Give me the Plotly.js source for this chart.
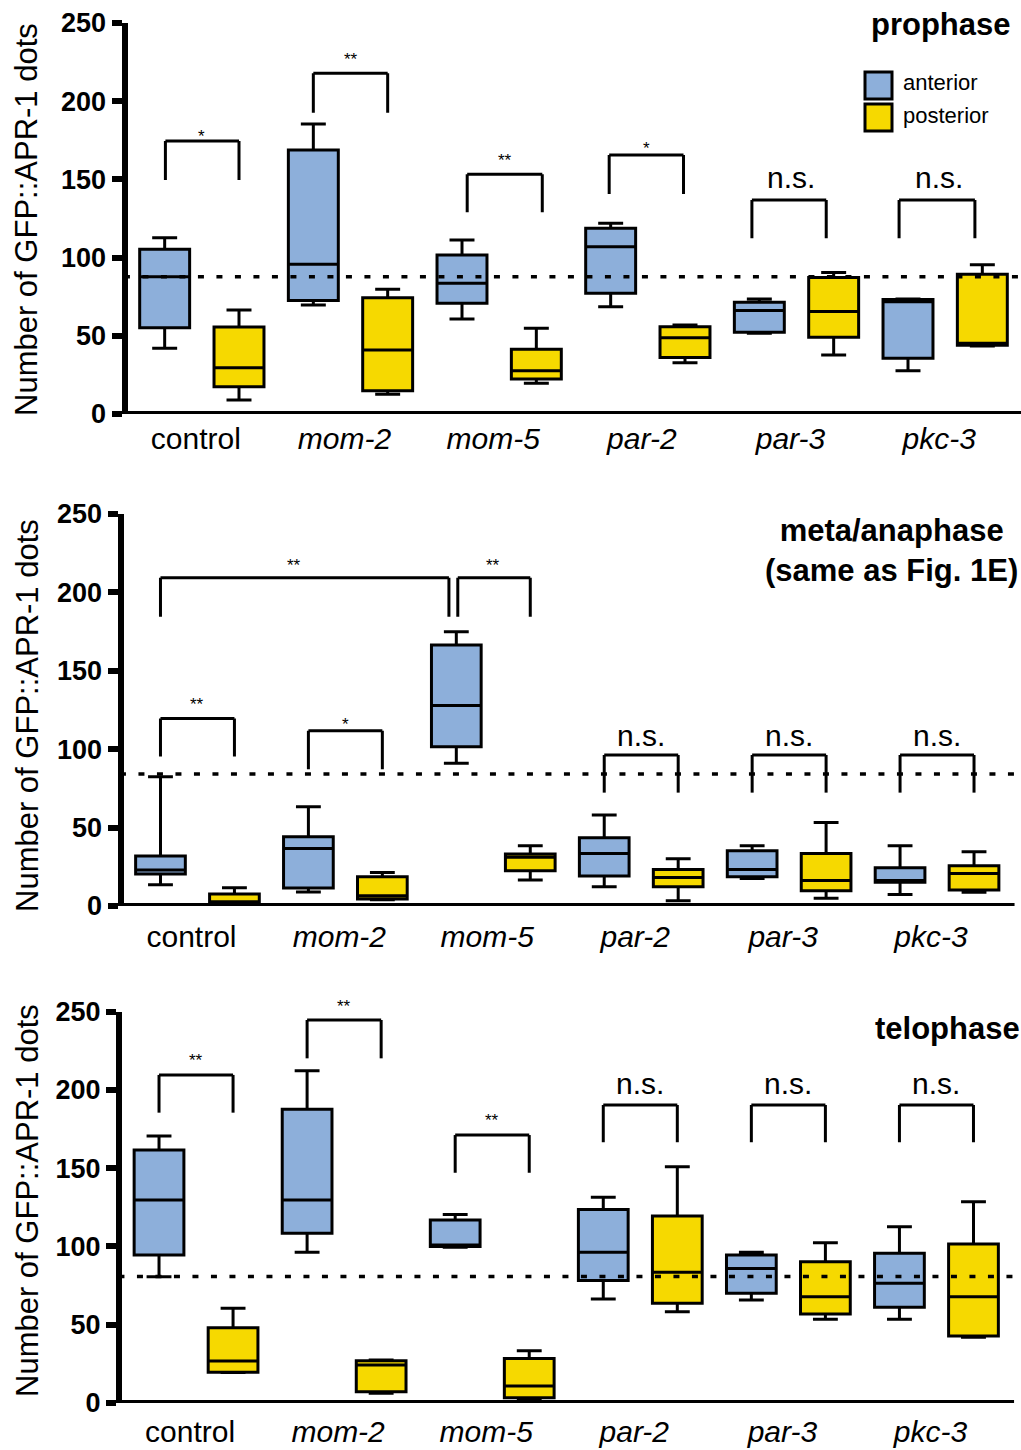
<!DOCTYPE html>
<html><head><meta charset="utf-8">
<script src="https://cdn.plot.ly/plotly-3.0.1.min.js"></script>
<style>body{margin:0;background:#fff}</style>
</head><body><div id="chart" style="width:1021px;height:1450px"></div>
<script>
// ---------- DATA ----------
const categories = ['control', 'mom-2', 'mom-5', 'par-2', 'par-3', 'pkc-3'];
const tickLabels = ['control', '<i>mom-2</i>', '<i>mom-5</i>', '<i>par-2</i>', '<i>par-3</i>', '<i>pkc-3</i>'];
const yTicks = [0, 50, 100, 150, 200, 250];
const seriesNames = ['anterior', 'posterior'];
const panelTitles = ['prophase', 'meta/anaphase<br>(same as Fig. 1E)', 'telophase'];
const yTitle = 'Number of GFP::APR-1 dots';

// prophase
const proAntLow = [42, 69.7, 60.7, 68.6, 51.6, 27.7];
const proAntQ1  = [55.2, 72.5, 70.8, 77.2, 52.2, 35.6];
const proAntMed = [87.8, 95.7, 83.6, 107, 66.1, 71.8];
const proAntQ3  = [105.3, 168.8, 101.7, 118.7, 71.4, 73.2];
const proAntHigh= [112.7, 185.4, 111.3, 121.9, 73.5, 73.6];
const proPostLow = [9, 12.6, 19.6, 32.8, 37.7, 43.5];
const proPostQ1  = [17.5, 14.9, 22.4, 36.2, 49, 44];
const proPostMed = [29.6, 40.9, 27.7, 48.8, 65.6, 45.3];
const proPostQ3  = [55.6, 74.4, 41.4, 55.8, 87.3, 89.3];
const proPostHigh= [66.5, 79.7, 54.8, 56.9, 90.5, 95.5];

// meta/anaphase
const metaAntLow = [13.6, 9, 91, 12.3, 17.6, 7.4];
const metaAntQ1  = [20.4, 11.5, 101.6, 19.1, 18.7, 15.1];
const metaAntMed = [23, 36.7, 127.8, 33.5, 23.3, 16.2];
const metaAntQ3  = [31.9, 44.2, 166.5, 43.6, 35.3, 24.4];
const metaAntHigh= [82.5, 63.3, 174.9, 58, 38.5, 38.5];
const metaPostLow = [1.5, 4, 16.6, 3.4, 4.9, 8.7];
const metaPostQ1  = [2, 4.5, 22.5, 12.3, 9.8, 10.2];
const metaPostMed = [2.5, 6.5, 31.1, 18.1, 16.2, 20.8];
const metaPostQ3  = [7.6, 18.7, 33.2, 23.3, 33.5, 25.7];
const metaPostHigh= [11.7, 21.3, 38.5, 30.2, 53.3, 34.6];

// telophase
const telAntLow = [80.7, 96.3, 99.5, 66.4, 65.8, 53.5];
const telAntQ1  = [94.6, 108.4, 100, 78.2, 70.1, 61.1];
const telAntMed = [129.7, 129.7, 101, 96.3, 86, 76.5];
const telAntQ3  = [161.6, 187.6, 116.9, 123.7, 94.6, 95.6];
const telAntHigh= [170.6, 212.3, 120.5, 131.4, 96.3, 112.6];
const telPostLow = [19.5, 6.2, 2.5, 58.3, 53.5, 42];
const telPostQ1  = [19.6, 7.2, 3.4, 63.7, 56.9, 42.8];
const telPostMed = [26.8, 24.3, 10.9, 83.5, 67.9, 67.9];
const telPostQ3  = [48.1, 27, 28.5, 119.5, 90.3, 101.6];
const telPostHigh= [60.5, 27.5, 33.4, 151, 102.4, 128.6];

// dotted reference lines (control anterior level)
const refLevels = [87.8, 84.2, 80.8];

// significance brackets (x in category-index units)
const proBrLeft   = [-0.245, 0.75, 1.785, 2.74, 3.70, 4.69];
const proBrRight  = [0.25, 1.25, 2.29, 3.24, 4.20, 5.20];
const proBrTop    = [174.6, 217.8, 153.3, 165.6, 136.8, 136.8];
const proBrBottom = [149.6, 192.6, 129, 140.7, 112.3, 112.3];
const proBrLabel  = ['*', '**', '**', '*', 'n.s.', 'n.s.'];
const proBrLabelX = [0, 1, 2.036, 2.99, 3.965, 4.96];
const proBrLabelY = [180, 229, 164.5, 172, 149, 149];

const metaBrLeft   = [-0.25, 0.75, -0.25, 1.76, 2.75, 3.75, 4.75];
const metaBrRight  = [0.25, 1.25, 1.70, 2.25, 3.25, 4.25, 5.25];
const metaBrTop    = [119.6, 111.8, 209.4, 209.4, 96.3, 96.3, 96.3];
const metaBrBottom = [95.3, 87.2, 184.5, 184.5, 72.3, 72.3, 72.3];
const metaBrLabel  = ['**', '*', '**', '**', 'n.s.', 'n.s.', 'n.s.'];
const metaBrLabelX = [0, 1, 0.65, 2.0, 3, 4, 5];
const metaBrLabelY = [131, 118.2, 220, 220, 107, 107, 107];

const telBrLeft   = [-0.25, 0.75, 1.75, 2.75, 3.75, 4.75];
const telBrRight  = [0.25, 1.25, 2.25, 3.25, 4.25, 5.25];
const telBrTop    = [209.6, 244.7, 171.2, 190.4, 190.4, 190.4];
const telBrBottom = [185.5, 220.2, 147.1, 166.6, 166.6, 166.6];
const telBrLabel  = ['**', '**', '**', 'n.s.', 'n.s.', 'n.s.'];
const telBrLabelX = [0, 1, 2, 3, 4, 5];
const telBrLabelY = [221.3, 255.6, 182.9, 202.1, 202.1, 202.1];

// ---------- STYLE ----------
const FONT = 'Liberation Sans, Arial, Helvetica, sans-serif';
const ANT_COLOR = '#8DAFDA';
const POST_COLOR = '#F6D900';
const W = 1021, H = 1450;
const Y_MAX = 250;
const yDomPx = [[23, 414], [514, 906], [1011.7, 1403]];
const xLabelStandoff = [4, 10, 8];

const panelDefs = [
  {xa: 'x', ya: 'y', ant: [proAntLow, proAntQ1, proAntMed, proAntQ3, proAntHigh],
   post: [proPostLow, proPostQ1, proPostMed, proPostQ3, proPostHigh],
   br: [proBrLeft, proBrRight, proBrTop, proBrBottom, proBrLabel, proBrLabelX, proBrLabelY]},
  {xa: 'x2', ya: 'y2', ant: [metaAntLow, metaAntQ1, metaAntMed, metaAntQ3, metaAntHigh],
   post: [metaPostLow, metaPostQ1, metaPostMed, metaPostQ3, metaPostHigh],
   br: [metaBrLeft, metaBrRight, metaBrTop, metaBrBottom, metaBrLabel, metaBrLabelX, metaBrLabelY]},
  {xa: 'x3', ya: 'y3', ant: [telAntLow, telAntQ1, telAntMed, telAntQ3, telAntHigh],
   post: [telPostLow, telPostQ1, telPostMed, telPostQ3, telPostHigh],
   br: [telBrLeft, telBrRight, telBrTop, telBrBottom, telBrLabel, telBrLabelX, telBrLabelY]}
];

function boxTrace(name, color, s, xa, ya, panel, grp) {
  return {
    type: 'box', name: name, x: categories,
    lowerfence: s[0], q1: s[1], median: s[2], q3: s[3], upperfence: s[4],
    fillcolor: color, line: {color: '#000', width: 3}, whiskerwidth: 0.5,
    boxpoints: false, xaxis: xa, yaxis: ya, showlegend: false, hoverinfo: 'skip',
    alignmentgroup: 'panel' + panel, offsetgroup: grp
  };
}

const traces = [];
const shapes = [];
const annotations = [];

panelDefs.forEach((p, i) => {
  traces.push(boxTrace(seriesNames[0], ANT_COLOR, p.ant, p.xa, p.ya, i, 'ant'));
  traces.push(boxTrace(seriesNames[1], POST_COLOR, p.post, p.xa, p.ya, i, 'post'));
  // x axis line at y = 0
  shapes.push({type: 'line', xref: p.xa + ' domain', yref: p.ya, x0: -0.0068, x1: 1.004, y0: 0, y1: 0,
    line: {color: '#000', width: 6}, layer: 'above'});
  // dotted reference line
  shapes.push({type: 'line', xref: p.xa + ' domain', yref: p.ya, x0: -0.004, x1: 1.004, y0: refLevels[i], y1: refLevels[i],
    line: {color: '#000', width: 3.5, dash: '6px,12.5px'}, layer: 'above'});
  const pxPerUnit = (yDomPx[i][1] - yDomPx[i][0]) / Y_MAX;
  const [L, R, T, B, lab, lx, ly] = p.br;
  for (let k = 0; k < L.length; k++) {
    const ln = {color: '#000', width: 3};
    shapes.push({type: 'line', xref: p.xa, yref: p.ya, x0: L[k], x1: L[k], y0: B[k], y1: T[k], line: ln, layer: 'above'});
    shapes.push({type: 'line', xref: p.xa, yref: p.ya, x0: L[k], x1: R[k], y0: T[k], y1: T[k], line: ln, layer: 'above'});
    shapes.push({type: 'line', xref: p.xa, yref: p.ya, x0: R[k], x1: R[k], y0: B[k], y1: T[k], line: ln, layer: 'above'});
    const ns = lab[k] === 'n.s.';
    // labels above the axis top are anchored at the top and shifted up
    const yv = Math.min(ly[k], Y_MAX);
    const extra = (ly[k] - yv) * pxPerUnit;
    annotations.push({xref: p.xa, yref: p.ya, x: lx[k], y: yv, text: lab[k], showarrow: false,
      xanchor: 'center', yanchor: 'middle', yshift: (ns ? 3 : -4) + extra,
      font: {family: FONT, size: ns ? 30 : 17, color: '#000'}});
  }
});

// y titles
const yTitleCenters = [220, 716, 1201];
yTitleCenters.forEach(c => annotations.push({xref: 'paper', yref: 'paper', x: 27 / W, y: (H - c) / H,
  text: yTitle, textangle: -90, showarrow: false, xanchor: 'center', yanchor: 'middle',
  font: {family: FONT, size: 31, color: '#000'}}));

// panel titles
annotations.push({xref: 'paper', yref: 'paper', x: 1013 / W, y: (H - 24) / H, text: panelTitles[0], showarrow: false,
  xanchor: 'right', yanchor: 'middle', font: {family: FONT, size: 31, color: '#000', weight: 'bold'}});
annotations.push({xref: 'paper', yref: 'paper', x: 891 / W, y: (H - 550.5) / H, text: panelTitles[1], showarrow: false,
  xanchor: 'center', yanchor: 'middle', align: 'center', font: {family: FONT, size: 31, color: '#000', weight: 'bold'}});
annotations.push({xref: 'paper', yref: 'paper', x: 873 / W, y: (H - 1028) / H, text: panelTitles[2], showarrow: false,
  xanchor: 'left', yanchor: 'middle', font: {family: FONT, size: 31, color: '#000', weight: 'bold'}});

// legend (drawn)
const legRows = [[72, 99, 83, ANT_COLOR], [104, 131, 115, POST_COLOR]];
legRows.forEach((r, i) => {
  shapes.push({type: 'rect', xref: 'paper', yref: 'paper', x0: 865 / W, x1: 892 / W, y0: (H - r[1]) / H, y1: (H - r[0]) / H,
    fillcolor: r[3], line: {color: '#000', width: 3}});
  annotations.push({xref: 'paper', yref: 'paper', x: 901 / W, y: (H - r[2]) / H, text: seriesNames[i], showarrow: false,
    xanchor: 'left', yanchor: 'middle', font: {family: FONT, size: 22, color: '#000'}});
});

function xAxis(domain, anchor, standoff) {
  return {domain: domain, anchor: anchor, type: 'category', categoryorder: 'array', categoryarray: categories,
    range: [-0.5, 5.5], tickvals: categories, ticktext: tickLabels, ticks: '', showline: false,
    showgrid: false, zeroline: false, ticklabelstandoff: standoff, ticklabelshift: -6,
    tickfont: {family: FONT, size: 30, color: '#000'}};
}
function yAxis(domain, anchor) {
  return {domain: domain, anchor: anchor, range: [0, Y_MAX], tickvals: yTicks, ticks: 'outside', ticklen: 10,
    tickwidth: 6, tickcolor: '#000', showline: true, linewidth: 6, linecolor: '#000', showgrid: false, zeroline: false,
    tickfont: {family: FONT, size: 27, color: '#000', weight: 'bold'}};
}

const layout = {
  width: W, height: H, margin: {l: 0, r: 0, t: 0, b: 0},
  paper_bgcolor: '#fff', plot_bgcolor: 'rgba(0,0,0,0)',
  boxmode: 'group', boxgap: 0, boxgroupgap: 0.328, showlegend: false,
  xaxis: xAxis([127.5 / W, 1019.5 / W], 'y', xLabelStandoff[0]),
  xaxis2: xAxis([123.5 / W, 1011 / W], 'y2', xLabelStandoff[1]),
  xaxis3: xAxis([122 / W, 1010.5 / W], 'y3', xLabelStandoff[2]),
  yaxis: yAxis([(H - yDomPx[0][1]) / H, (H - yDomPx[0][0]) / H], 'x'),
  yaxis2: yAxis([(H - yDomPx[1][1]) / H, (H - yDomPx[1][0]) / H], 'x2'),
  yaxis3: yAxis([(H - yDomPx[2][1]) / H, (H - yDomPx[2][0]) / H], 'x3'),
  shapes: shapes, annotations: annotations
};

Plotly.newPlot('chart', traces, layout, {displayModeBar: false, staticPlot: true});
</script>
</body></html>
